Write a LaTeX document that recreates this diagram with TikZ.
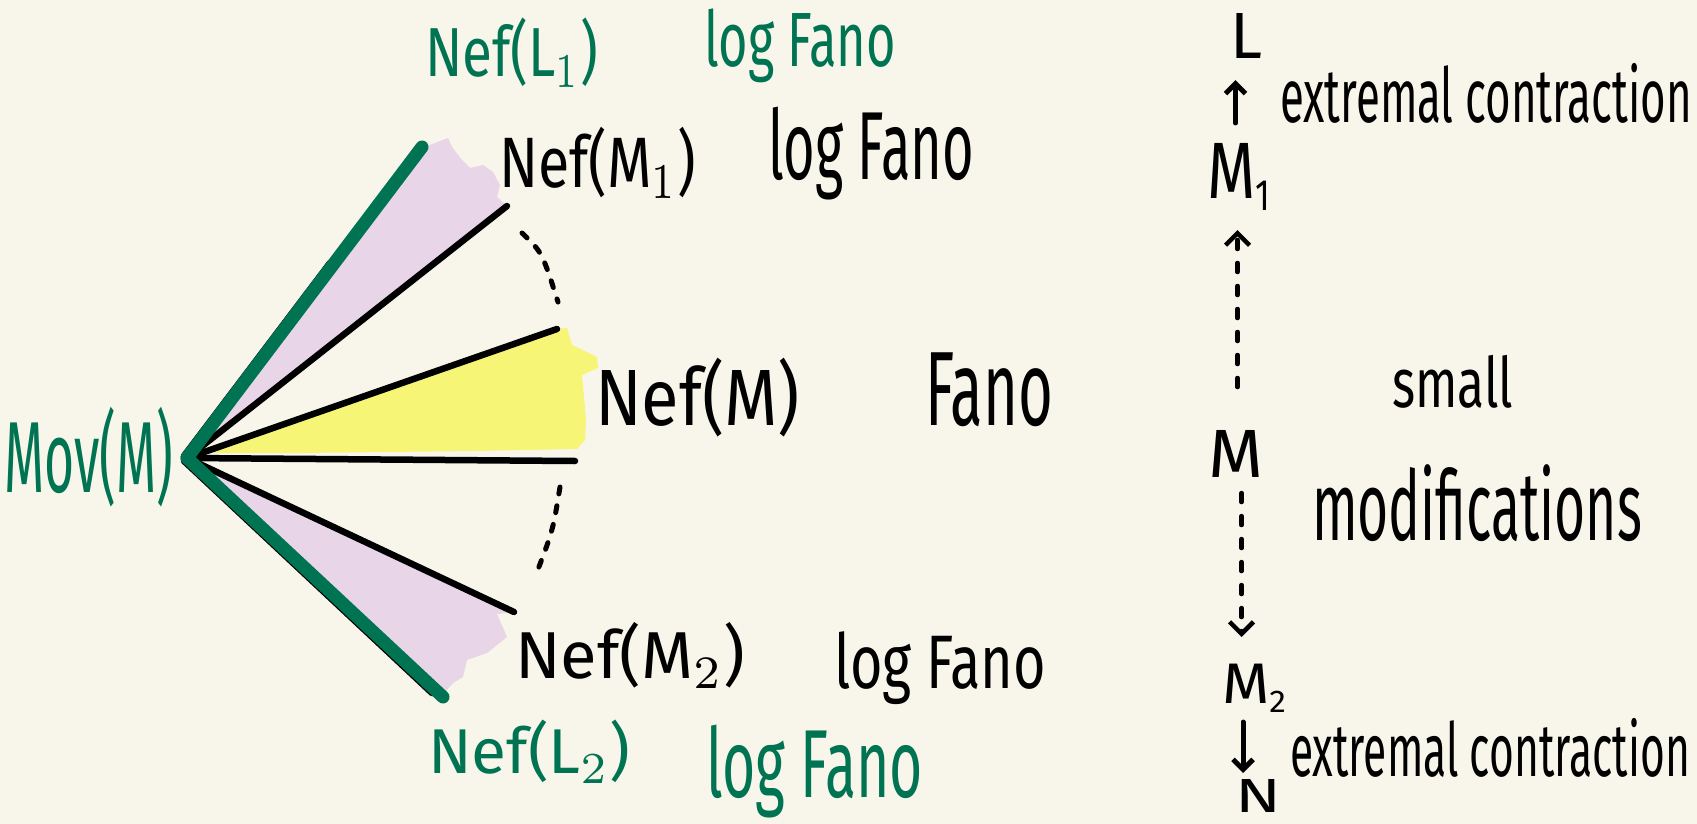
\documentclass[tikz,border=0pt]{standalone}
\usepackage{fontspec}
\setmainfont{Fira Sans}
\usepackage{graphicx}
\usetikzlibrary{arrows.meta}
\definecolor{bg}{RGB}{248,246,234}
\definecolor{dgreen}{RGB}{0,115,82}
\definecolor{lilac}{RGB}{232,213,232}
\definecolor{yel}{RGB}{246,245,118}
\newcommand{\fitbox}[3]{\resizebox*{#1pt}{#2pt}{#3}}
\newcommand{\lowsub}[1]{\raisebox{-0.15em}{\scalebox{0.55}{#1}}}
\begin{document}
\begin{tikzpicture}[x=1pt,y=-1pt,
  lbl/.style={inner sep=0pt, outer sep=0pt, anchor=north west, text=black},
  glbl/.style={lbl, text=dgreen},
  ray/.style={line width=6.5pt, line cap=round, draw=black},
  greenray/.style={line width=13pt, line cap=round, draw=dgreen},
  dotarc/.style={line width=5pt, line cap=round, dash pattern=on 7pt off 12pt},
  sarrow/.style={line width=5pt, line cap=round, -{Straight Barb[length=10pt,width=20pt,line width=5pt]}},
  darrow/.style={line width=4.5pt, line cap=round, dash pattern=on 9pt off 14pt, -{Straight Barb[length=12pt,width=24pt,line width=4.5pt]}}]
\fill[bg] (0,0) rectangle (1697,824);
\useasboundingbox (0,0) rectangle (1697,824);
\clip (0,0) rectangle (1697,824);

% fan coordinates
\coordinate (apex) at (187,458);
\coordinate (g1) at (422,147);
\coordinate (g2) at (443,697);
\coordinate (b1) at (507,206);
\coordinate (b2) at (557,329);
\coordinate (b3) at (575,461);
\coordinate (b4) at (514,612);

% fills
\fill[lilac] (187,458) -- (416,146) -- (427,146) -- (448,138) -- (452,147) -- (462,160) -- (470,168) -- (483,165) -- (493,172) -- (500,185) -- (497,197) -- (b1) -- cycle;
\fill[lilac] (190,462) -- (b4) -- (497,614) -- (507,637) -- (487,653) -- (467,660) -- (463,677) -- (453,683) -- (443,694) -- cycle;
\fill[yel] (205,449) -- (b2) -- (567,328) -- (572,345) -- (597,357) -- (598,368) -- (582,375) -- (586,420) -- (585,440) -- (577,449) -- (473,451) -- (300,453) -- (215,453) -- cycle;

% black rays
\draw[ray] (apex) -- (b1);
\draw[ray] (apex) -- (b2);
\draw[ray] (apex) -- (b3);
\draw[ray] (apex) -- (b4);
\coordinate (k1a) at (184,456);
\coordinate (k1b) at (330,263);
\coordinate (k2a) at (184,461);
\coordinate (k2b) at (432,693);
\draw[ray] (k1a) -- (k1b);
\draw[ray] (k2a) -- (k2b);
% green rays
\draw[greenray] (apex) -- (g1);
\draw[greenray] (apex) -- (g2);

% dotted arcs
\coordinate (a1) at (522,233);
\coordinate (a2) at (558,302);
\coordinate (a3) at (560,487);
\coordinate (a4) at (537,572);
\draw[dotarc] (a1) .. controls (542,252) .. (a2);
\draw[dotarc] (a3) .. controls (553,530) .. (a4);

% left labels
\node[glbl] (movm) at (4,407) {\fitbox{169}{100}{Mov(M)}};
\node[glbl] (nefL1) at (425,18) {\fitbox{173}{69}{Nef(L$_1$)}};
\node[glbl] (logF1) at (704,9) {\fitbox{192}{74}{log Fano}};
\node[lbl] (nefM1) at (499,127) {\fitbox{197}{71}{Nef(M$_1$)}};
\node[lbl] (logF2) at (768,107) {\fitbox{206}{93}{log Fano}};
\node[lbl] (nefM) at (595,358) {\fitbox{205}{79}{Nef(M)}};
\node[lbl] (fano) at (925,353) {\fitbox{128}{74}{Fano}};
\node[lbl] (nefM2) at (515,622) {\fitbox{230}{66}{Nef(M$_2$)}};
\node[lbl] (logF3) at (834,632) {\fitbox{212}{73}{log Fano}};
\node[glbl] (nefL2) at (428,720) {\fitbox{202}{63}{Nef(L$_2$)}};
\node[glbl] (logF4) at (706,725) {\fitbox{217}{93}{log Fano}};

% right column
\node[lbl] (L) at (1230,13) {\fitbox{32}{45}{L}};
\node[lbl] (ext1) at (1280,63) {\fitbox{412}{60}{extremal contraction}};
\node[lbl] (M1) at (1207,143) {\fitbox{63}{67}{M\lowsub{1}}};
\node[lbl] (small) at (1392,355) {\fitbox{121}{53}{small}};
\node[lbl] (M) at (1208,430) {\fitbox{55}{47}{M}};
\node[lbl] (modif) at (1312,465) {\fitbox{330}{77}{modifications}};
\node[lbl] (M2) at (1222,664) {\fitbox{64}{48}{M\lowsub{2}}};
\node[lbl] (ext2) at (1290,718) {\fitbox{400}{59}{extremal contraction}};
\node[lbl] (N) at (1235,779) {\fitbox{46}{33}{N}};

\draw[sarrow, shorten <=20pt, shorten >=22pt] ([xshift=-3pt]M1.north) -- ([xshift=-3pt]M1.north |- L.south);
\draw[darrow, shorten <=43pt, shorten >=20pt] ([xshift=2pt]M.north) -- ([xshift=2pt]M.north |- M1.south);
\draw[darrow, shorten <=16pt, shorten >=27pt] ([xshift=6pt]M.south) -- ([xshift=6pt]M.south |- M2.north);
\draw[sarrow, shorten <=10pt, shorten >=6pt] ([xshift=-11pt]M2.south) -- ([xshift=-11pt]M2.south |- N.north);
\end{tikzpicture}
\end{document}
